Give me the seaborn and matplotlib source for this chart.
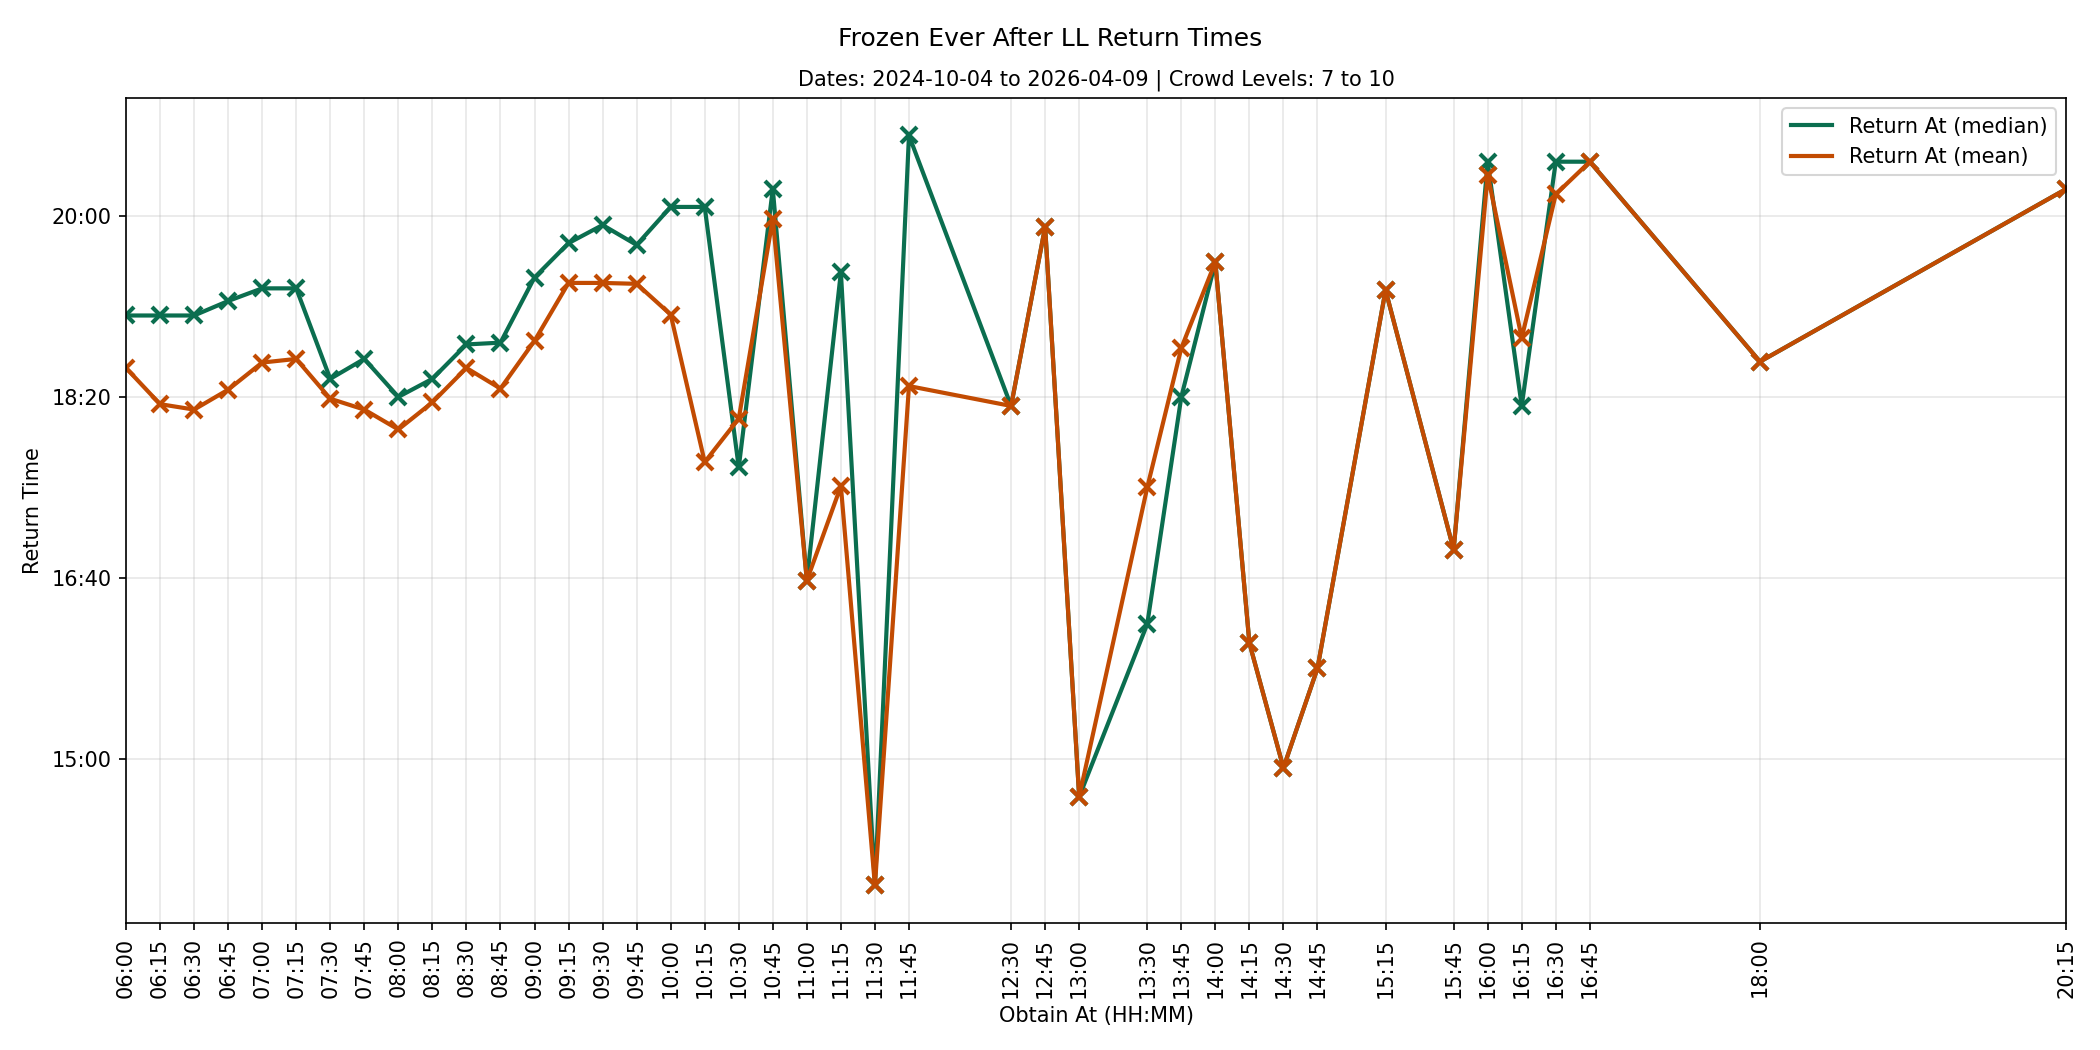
import matplotlib
matplotlib.use("Agg")
import matplotlib.pyplot as plt
from matplotlib.lines import Line2D
from matplotlib.ticker import FuncFormatter, MultipleLocator
import seaborn as sns
import pandas as pd

obtain_at = ["06:00", "06:15", "06:30", "06:45", "07:00", "07:15", "07:30", "07:45",
             "08:00", "08:15", "08:30", "08:45", "09:00", "09:15", "09:30", "09:45",
             "10:00", "10:15", "10:30", "10:45", "11:00", "11:15", "11:30", "11:45",
             "12:30", "12:45", "13:00", "13:30", "13:45", "14:00", "14:15", "14:30",
             "14:45", "15:15", "15:45", "16:00", "16:15", "16:30", "16:45", "18:00",
             "20:15"]

# return times, minutes after midnight
return_median = [1145, 1145, 1145, 1153, 1160, 1160, 1110, 1121,
                 1100, 1110, 1129, 1130, 1166, 1185, 1195, 1184,
                 1205, 1205, 1061, 1215, 998.5, 1169, 830, 1244.5,
                 1095, 1194, 879, 974.5, 1100, 1174.5, 964, 895,
                 950, 1159, 1015.5, 1230, 1095, 1230, 1230, 1119.5,
                 1215]
return_mean = [1116, 1096, 1093, 1104, 1119, 1121, 1099, 1093,
               1082, 1097, 1116, 1104.6, 1131, 1163, 1163, 1162.5,
               1145.5, 1064, 1088, 1198.5, 998.5, 1050.7, 830, 1106,
               1095, 1194, 879, 1050, 1127, 1174.5, 964, 895,
               950, 1159, 1015.5, 1222.5, 1132.6, 1212, 1230, 1119.5,
               1215]

series_labels = ["Return At (median)", "Return At (mean)"]
series_colors = ["#0b6e4f", "#c24b02"]


def to_min(s):
    h, m = s.split(":")
    return int(h) * 60 + int(m)


def fmt_hhmm(v, pos=None):
    v = int(round(v))
    return f"{v // 60:02d}:{v % 60:02d}"


x_min = [to_min(s) for s in obtain_at]
df = pd.DataFrame({"x": x_min, "median": return_median, "mean": return_mean})

fig, ax = plt.subplots(figsize=(14, 7), dpi=150)
fig.subplots_adjust(left=0.06, right=0.984, top=0.9067, bottom=0.121)

for col, lab, c in zip(["median", "mean"], series_labels, series_colors):
    sns.lineplot(data=df, x="x", y=col, ax=ax, color=c, linewidth=2,
                 marker="x", markersize=8, markeredgewidth=2, markeredgecolor=c,
                 estimator=None, sort=False, legend=False)

ax.set_xlim(min(x_min), max(x_min))
ax.set_xticks(x_min)
ax.set_xticklabels(obtain_at, rotation=90)
ax.yaxis.set_major_locator(MultipleLocator(100))
ax.yaxis.set_major_formatter(FuncFormatter(fmt_hhmm))
ax.grid(True, alpha=0.3)

ax.set_xlabel("Obtain At (HH:MM)")
ax.set_ylabel("Return Time")
ax.set_title("Dates: 2024-10-04 to 2026-04-09 | Crowd Levels: 7 to 10", fontsize=10)
fig.text(0.5, 0.963, "Frozen Ever After LL Return Times", ha="center", va="center",
         fontsize=12)

handles = [Line2D([], [], color=c, linewidth=2) for c in series_colors]
ax.legend(handles, series_labels, loc="upper right")

fig.savefig("out.png", dpi=150)
